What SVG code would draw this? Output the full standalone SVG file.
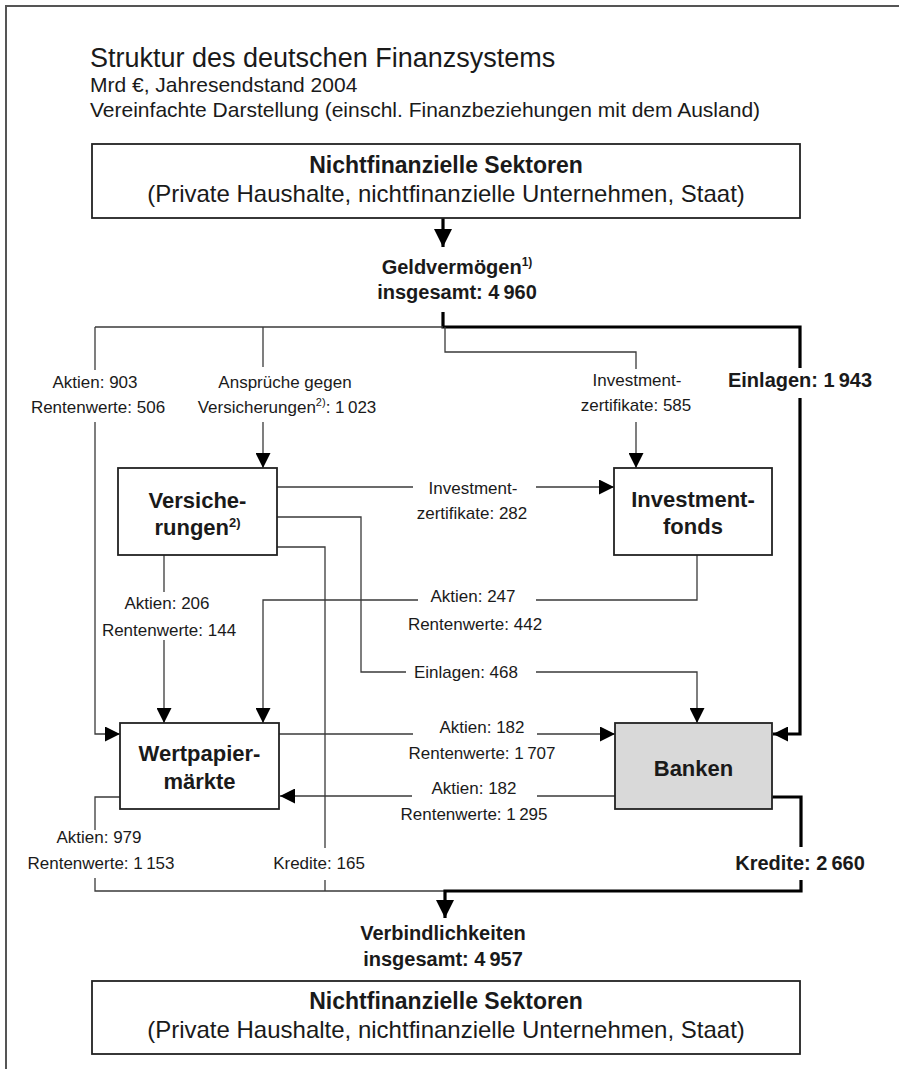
<svg xmlns="http://www.w3.org/2000/svg" width="899" height="1069" viewBox="0 0 899 1069">
<style>
text{font-family:"Liberation Sans",Arial,sans-serif;fill:#1a1a1a}
.ttl{font-size:27px}
.sub{font-size:21px}
.lbl{font-size:17px;text-anchor:middle}
.blbl{font-size:20px;font-weight:bold;text-anchor:middle}
.node{font-size:22px;font-weight:bold;text-anchor:middle}
.bh{font-size:23px;font-weight:bold;text-anchor:middle}
.bt{font-size:24px;text-anchor:middle}
.box{fill:#fff;stroke:#222;stroke-width:1.8}
.gray{fill:#d9d9d9;stroke:#222;stroke-width:1.8}
.ln{fill:none;stroke:#3a3a3a;stroke-width:1.3}
.thick{fill:none;stroke:#000;stroke-width:3.2}
.frame{fill:none;stroke:#555;stroke-width:2}
</style>
<defs>
<marker id="ah" markerUnits="userSpaceOnUse" markerWidth="15" markerHeight="15" viewBox="0 0 15 15" refX="15" refY="7.5" orient="auto"><path d="M0,0 L15,7.5 L0,15 Z" fill="#000"/></marker>
<marker id="ahb" markerUnits="userSpaceOnUse" markerWidth="18" markerHeight="18" viewBox="0 0 18 18" refX="18" refY="9" orient="auto"><path d="M0,0 L18,9 L0,18 Z" fill="#000"/></marker>
</defs>
<path class="frame" d="M6,1069 V6 H899"/>
<g id="title">
<text class="ttl" x="90" y="67">Struktur des deutschen Finanzsystems</text>
<text class="sub" x="90" y="92">Mrd €, Jahresendstand 2004</text>
<text class="sub" x="90" y="117">Vereinfachte Darstellung (einschl. Finanzbeziehungen mit dem Ausland)</text>
</g>
<g id="connectors">
<path class="thick" d="M443,218 V247" marker-end="url(#ahb)"/>
<path class="thick" d="M443,312 V327 H800 V368"/>
<path class="thick" d="M800,398 V734 H773" marker-end="url(#ah)"/>
<path class="ln" d="M95,327 H443"/>
<path class="ln" d="M95,327 V370"/>
<path class="ln" d="M95,422 V734 H120" marker-end="url(#ah)"/>
<path class="ln" d="M263,327 V367"/>
<path class="ln" d="M263,422 V468" marker-end="url(#ah)"/>
<path class="ln" d="M445,327 V352 H636 V369"/>
<path class="ln" d="M636,422 V468" marker-end="url(#ah)"/>
<path class="ln" d="M277,487 H413"/>
<path class="ln" d="M536,487 H614" marker-end="url(#ah)"/>
<path class="ln" d="M277,517 H361 V672 H406"/>
<path class="ln" d="M536,672 H697 V723" marker-end="url(#ah)"/>
<path class="ln" d="M277,547 H325 V848"/>
<path class="ln" d="M325,880 V891"/>
<path class="ln" d="M164,555 V592"/>
<path class="ln" d="M164,640 V723" marker-end="url(#ah)"/>
<path class="ln" d="M697,555 V600 H536"/>
<path class="ln" d="M418,600 H263 V723" marker-end="url(#ah)"/>
<path class="ln" d="M279,734 H413"/>
<path class="ln" d="M537,734 H615" marker-end="url(#ah)"/>
<path class="ln" d="M615,796 H537"/>
<path class="ln" d="M412,796 H280" marker-end="url(#ah)"/>
<path class="ln" d="M120,797 H95 V830"/>
<path class="ln" d="M95,878 V891 H445"/>
<path class="thick" d="M772,797 H801 V847"/>
<path class="thick" d="M801,880 V891 H445 V918" marker-end="url(#ahb)"/>
</g>
<g id="edge-labels">
<text class="blbl" x="457" y="274">Geldvermögen<tspan font-size="12" dy="-8">1)</tspan></text>
<text class="blbl" x="457" y="299">insgesamt: 4&#8201;960</text>
<text class="lbl" x="95" y="388">Aktien: 903</text>
<text class="lbl" x="98" y="413">Rentenwerte: 506</text>
<text class="lbl" x="285" y="388">Ansprüche gegen</text>
<text class="lbl" x="287" y="413">Versicherungen<tspan font-size="11" dy="-7">2)</tspan><tspan dy="7">: 1&#8201;023</tspan></text>
<text class="lbl" x="637" y="386">Investment-</text>
<text class="lbl" x="636" y="411">zertifikate: 585</text>
<text class="blbl" x="800" y="387">Einlagen: 1&#8201;943</text>
<text class="lbl" x="473" y="494">Investment-</text>
<text class="lbl" x="472" y="519">zertifikate: 282</text>
<text class="lbl" x="167" y="609">Aktien: 206</text>
<text class="lbl" x="169" y="636">Rentenwerte: 144</text>
<text class="lbl" x="473" y="602">Aktien: 247</text>
<text class="lbl" x="475" y="630">Rentenwerte: 442</text>
<text class="lbl" x="466" y="678">Einlagen: 468</text>
<text class="lbl" x="482" y="733">Aktien: 182</text>
<text class="lbl" x="482" y="759">Rentenwerte: 1&#8201;707</text>
<text class="lbl" x="474" y="794">Aktien: 182</text>
<text class="lbl" x="474" y="820">Rentenwerte: 1&#8201;295</text>
<text class="lbl" x="99" y="843">Aktien: 979</text>
<text class="lbl" x="101" y="869">Rentenwerte: 1&#8201;153</text>
<text class="lbl" x="319" y="869">Kredite: 165</text>
<text class="blbl" x="800" y="870">Kredite: 2&#8201;660</text>
<text class="blbl" x="443" y="940">Verbindlichkeiten</text>
<text class="blbl" x="443" y="966">insgesamt: 4&#8201;957</text>
</g>
<g id="sectors-top">
<rect class="box" x="92" y="144" width="708" height="74"/>
<text class="bh" x="446" y="173">Nichtfinanzielle Sektoren</text>
<text class="bt" x="446" y="202">(Private Haushalte, nichtfinanzielle Unternehmen, Staat)</text>
</g>
<g id="versicherungen">
<rect class="box" x="118" y="468" width="159" height="87"/>
<text class="node" x="197.5" y="508">Versiche-</text>
<text class="node" x="197.5" y="535">rungen<tspan font-size="13" dy="-8">2)</tspan></text>
</g>
<g id="investmentfonds">
<rect class="box" x="614" y="468" width="158" height="87"/>
<text class="node" x="693" y="507">Investment-</text>
<text class="node" x="693" y="534">fonds</text>
</g>
<g id="wertpapiermaerkte">
<rect class="box" x="120" y="723" width="159" height="86"/>
<text class="node" x="199.5" y="761">Wertpapier-</text>
<text class="node" x="199.5" y="789">märkte</text>
</g>
<g id="banken">
<rect class="gray" x="615" y="723" width="157" height="86"/>
<text class="node" x="693.5" y="776">Banken</text>
</g>
<g id="sectors-bottom">
<rect class="box" x="92" y="981" width="708" height="73"/>
<text class="bh" x="446" y="1009">Nichtfinanzielle Sektoren</text>
<text class="bt" x="446" y="1038">(Private Haushalte, nichtfinanzielle Unternehmen, Staat)</text>
</g>
</svg>
